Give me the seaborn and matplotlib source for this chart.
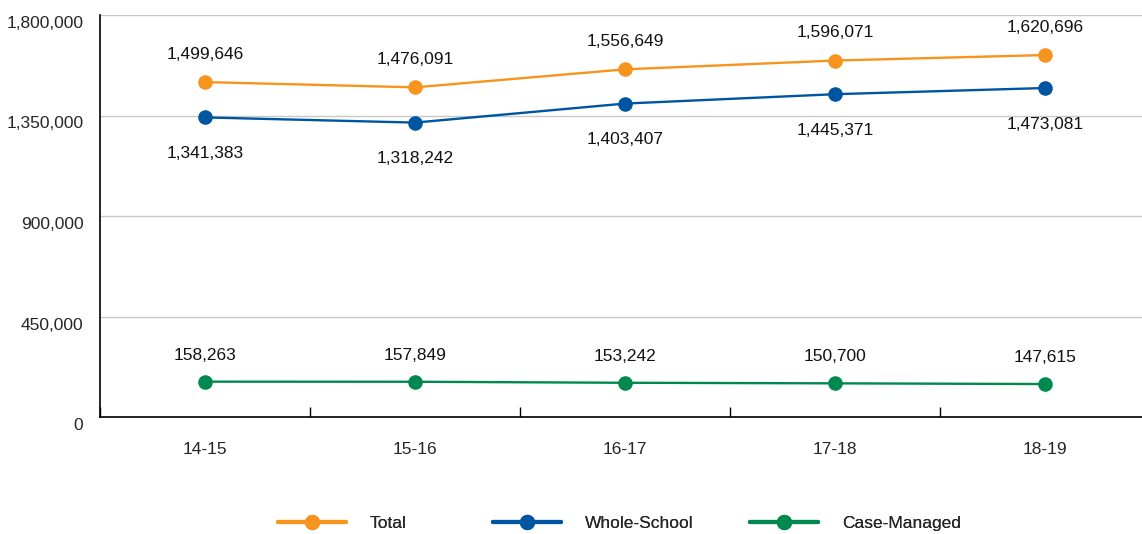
import pandas as pd
import matplotlib.pyplot as plt
import matplotlib.transforms as mtransforms
import seaborn as sns
import numpy as np

# Data
years = ["14-15", "15-16", "16-17", "17-18", "18-19"]
total = [1499646, 1476091, 1556649, 1596071, 1620696]
whole_school = [1341383, 1318242, 1403407, 1445371, 1473081]
case_managed = [158263, 157849, 153242, 150700, 147615]
series_names = ["Total", "Whole-School", "Case-Managed"]
colors = ["#F7941D", "#0055A0", "#00894F"]
y_ticks = [0, 450000, 900000, 1350000, 1800000]

sns.set_style("white")
plt.rcParams['font.family'] = ['Liberation Sans', 'DejaVu Sans']
plt.rcParams['font.size'] = 12.5

rows = []
for name, vals in zip(series_names, [total, whole_school, case_managed]):
    for i, v in enumerate(vals):
        rows.append({"x": i, "year": years[i], "value": v, "series": name})
df = pd.DataFrame(rows)

fig = plt.figure(figsize=(11.42, 5.34), dpi=100)
ax = fig.add_axes([100 / 1142, 117 / 534, 1050 / 1142, 402 / 534])

sns.lineplot(data=df, x="x", y="value", hue="series", hue_order=series_names,
             palette=colors, marker="o", markersize=10.5, markeredgewidth=0,
             linewidth=1.7, ax=ax, legend=True)

# Value labels (offset in points, label centre)
offsets = {"Total": 20, "Whole-School": -26, "Case-Managed": 19}
for name, vals in zip(series_names, [total, whole_school, case_managed]):
    for i, v in enumerate(vals):
        ax.annotate(f"{v:,}", (i, v), xytext=(0, offsets[name]), textcoords="offset points",
                    ha="center", va="center", fontsize=12.5, color="#111111")

ax.set_xlim(-0.5, 4.5)
ax.set_ylim(0, 1800000)
ax.set_yticks(y_ticks)
ax.set_yticklabels([f"{t:,}" for t in y_ticks])
ax.yaxis.grid(True, color="#c8c8c8", linewidth=1)
ax.set_axisbelow(True)
ax.tick_params(axis="y", length=0, pad=12, labelsize=12.5)
shift = mtransforms.ScaledTranslation(0, -7 / 100, fig.dpi_scale_trans)
for lab in ax.get_yticklabels():
    lab.set_transform(lab.get_transform() + shift)

ax.set_xticks(range(len(years)))
ax.set_xticklabels(years)
ax.set_xticks(np.arange(-0.5, 4.0, 1.0), minor=True)
ax.tick_params(axis="x", which="major", bottom=True, length=0, pad=18, labelsize=12.5)
ax.tick_params(axis="x", which="minor", bottom=True, direction="in",
               length=7.5, width=1, color="black")
ax.set_xlabel("")
ax.set_ylabel("")

for s in ["top", "right"]:
    ax.spines[s].set_visible(False)
for s in ["left", "bottom"]:
    ax.spines[s].set_color("black")
    ax.spines[s].set_linewidth(1.2)

handles, labels = ax.get_legend_handles_labels()
ax.get_legend().remove()
legend_x = [278, 493, 750]
for h, lab, lx in zip(handles, labels, legend_x):
    h.set_linewidth(3)
    h.set_markersize(11)
    leg = fig.legend([h], [lab], loc="center left", bbox_to_anchor=(lx / 1142, 11 / 534),
                     frameon=False, handlelength=3.9, handletextpad=1.4,
                     borderpad=0, borderaxespad=0, fontsize=12.5)
    fig.add_artist(leg)

plt.savefig("out.png", dpi=100)
